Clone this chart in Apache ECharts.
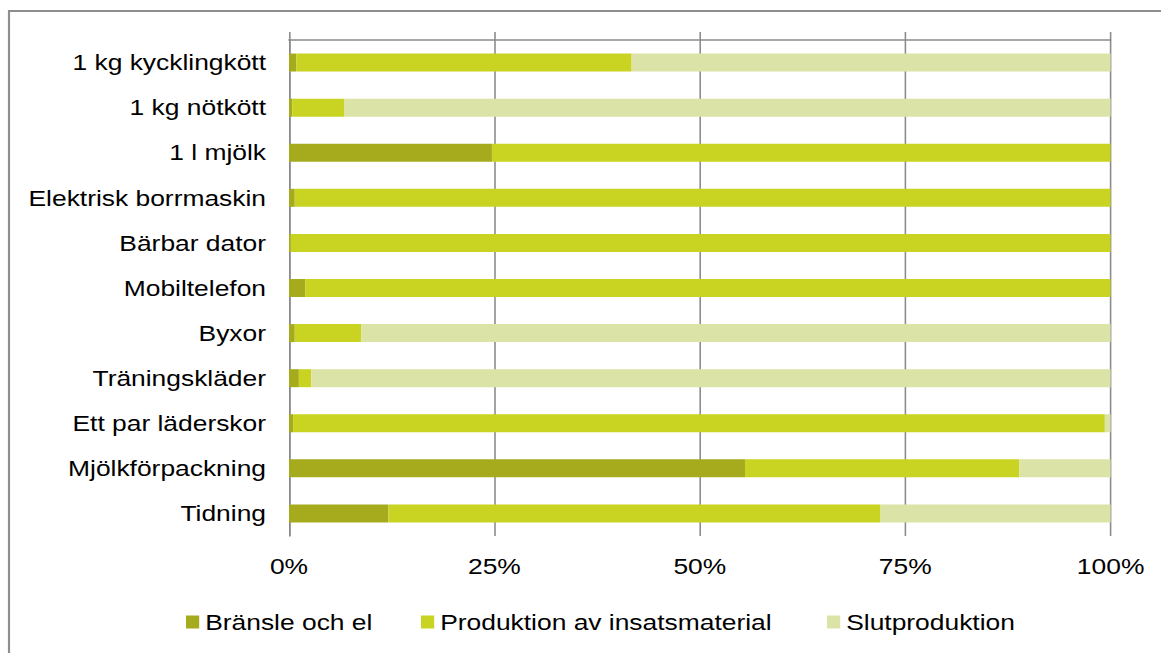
<!DOCTYPE html>
<html>
<head>
<meta charset="utf-8">
<script src="https://cdn.jsdelivr.net/npm/echarts@6/dist/echarts.min.js"></script>
<style>
  html, body { margin: 0; padding: 0; background: #fff; overflow: hidden; }
  #wrap { width: 1161px; height: 653px; overflow: hidden; }
  /* the reference picture is stretched horizontally by ~1.2 */
  #chart { width: 967.5px; height: 653px; transform: scaleX(1.2); transform-origin: 0 0; }
</style>
</head>
<body>
<div id="wrap"><div id="chart"></div></div>
<script>
const categories = [
  '1 kg kycklingkött', '1 kg nötkött', '1 l mjölk', 'Elektrisk borrmaskin',
  'Bärbar dator', 'Mobiltelefon', 'Byxor', 'Träningskläder',
  'Ett par läderskor', 'Mjölkförpackning', 'Tidning'
];
const seriesNames = ['Bränsle och el', 'Produktion av insatsmaterial', 'Slutproduktion'];
const bransle =    [0.9, 0.4, 24.7, 0.7, 0.2, 2.0, 0.7, 1.2, 0.5, 55.5, 12.1];
const produktion = [40.8, 6.3, 75.3, 99.3, 99.8, 98.0, 8.1, 1.5, 98.8, 33.4, 59.9];
const slut =       [58.3, 93.3, 0.0, 0.0, 0.0, 0.0, 91.2, 97.3, 0.7, 11.1, 28.0];
const tickValues = [0, 25, 50, 75, 100];

const colors = ['#A6AB1E', '#C9D321', '#DCE3A6'];
const FONT = '"Liberation Sans", Arial, sans-serif';
const gridColor = '#8a8a8a';
const SX = 1.2;

const chart = echarts.init(document.getElementById('chart'), null, { renderer: 'svg' });

const legendLefts = [186, 421, 827].map(v => v / SX);

const option = {
  animation: false,
  textStyle: { fontFamily: FONT },
  graphic: [{
    type: 'rect',
    shape: { x: 9 / SX, y: 11, width: 1300, height: 800 },
    style: { fill: 'none', stroke: '#8e8e8e', lineWidth: 1.8 },
    silent: true
  }],
  legend: seriesNames.map((n, i) => ({
    data: [n],
    left: legendLefts[i],
    top: 611,
    padding: 0,
    itemWidth: 11,
    itemHeight: 13,
    icon: 'rect',
    textStyle: { fontSize: 22, color: '#000', fontFamily: FONT },
    selectedMode: false
  })),
  grid: { left: 289 / SX, right: (1161 - 1110) / SX, top: 40, bottom: 117, containLabel: false },
  xAxis: [{
    type: 'value',
    position: 'bottom',
    min: tickValues[0],
    max: tickValues[tickValues.length - 1],
    interval: 25,
    axisLine: { show: false },
    axisTick: { show: false },
    axisLabel: {
      formatter: v => v + '%',
      fontSize: 22,
      color: '#000',
      fontFamily: FONT,
      margin: 19
    },
    splitLine: { show: true, lineStyle: { color: gridColor, width: 1.3 } }
  }, {
    type: 'value',
    position: 'top',
    min: tickValues[0],
    max: tickValues[tickValues.length - 1],
    interval: 25,
    axisLine: { show: true, lineStyle: { color: gridColor, width: 1.5 } },
    axisTick: { show: true, inside: false, length: 8, lineStyle: { color: gridColor, width: 1.3 } },
    axisLabel: { show: false },
    splitLine: { show: false }
  }],
  yAxis: {
    type: 'category',
    data: categories,
    inverse: true,
    axisLine: { show: true, lineStyle: { color: gridColor, width: 1.3 } },
    axisTick: { show: false },
    axisLabel: { fontSize: 22, color: '#000', fontFamily: FONT, margin: 23 / SX },
    splitLine: { show: false }
  },
  series: [bransle, produktion, slut].map((d, i) => ({
    name: seriesNames[i],
    type: 'bar',
    stack: 'total',
    xAxisIndex: 0,
    data: d,
    barWidth: 18,
    itemStyle: { color: colors[i] },
    emphasis: { disabled: true }
  }))
};
chart.setOption(option);
</script>
</body>
</html>
